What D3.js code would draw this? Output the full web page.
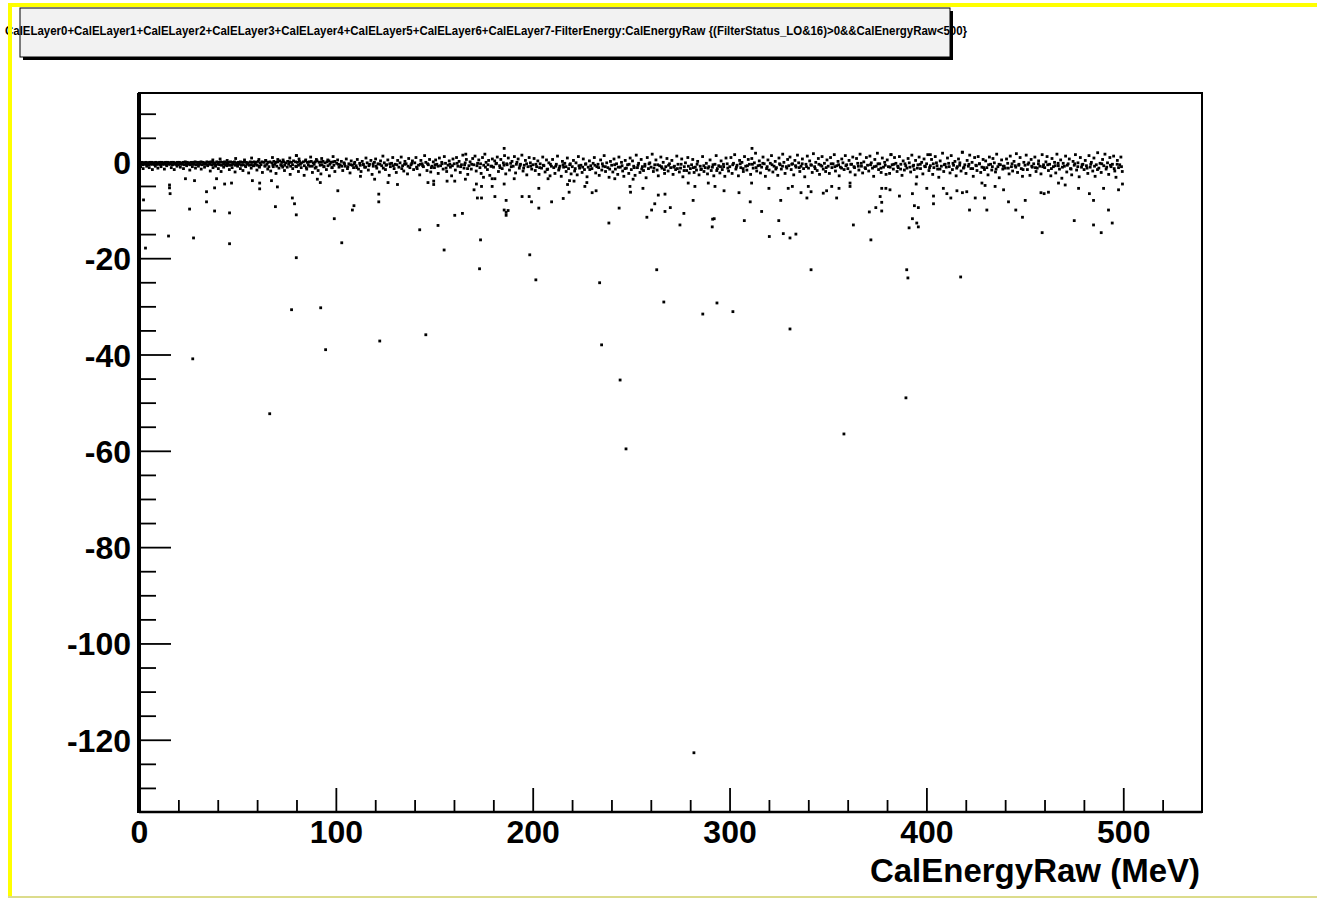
<!DOCTYPE html>
<html>
<head>
<meta charset="UTF-8">
<title>CalELayer sum - FilterEnergy vs CalEnergyRaw</title>
<script src="https://d3js.org/d3.v7.min.js"></script>
<style>
  body { margin: 0; background: #fff; }
  svg { display: block; font-family: "Liberation Sans", Arial, Helvetica, sans-serif; }
  .tick text { font-weight: bold; font-size: 32px; fill: #000; }
  .tick line { stroke: #000; stroke-width: 1.8; }
</style>
</head>
<body>
<svg width="1317" height="900"></svg>
<script>
const titleText = "CalELayer0+CalELayer1+CalELayer2+CalELayer3+CalELayer4+CalELayer5+CalELayer6+CalELayer7-FilterEnergy:CalEnergyRaw {(FilterStatus_LO&16)>0&&CalEnergyRaw<500}";
const xTitle = "CalEnergyRaw (MeV)";

const xDomain = [0, 540];
const yDomain = [-135, 14.3];
const xMajor = [0, 100, 200, 300, 400, 500];
const xMinor = [20, 40, 60, 80, 120, 140, 160, 180, 220, 240, 260, 280, 320, 340, 360, 380, 420, 440, 460, 480, 520];
const yMajor = [0, -20, -40, -60, -80, -100, -120];
const yMinor = [10, 5, -5, -10, -15, -25, -30, -35, -45, -50, -55, -65, -70, -75, -85, -90, -95, -105, -110, -115, -125, -130];

// points as "x,y" pairs (x in MeV, y in MeV)
// the solid line just under 0 at low energy
const coreRow1 = `0.5,-0.2 1.5,-0.1 2.5,-0.2 3.5,-0.1 4.5,-0.2 5.5,-0.1 6.5,-0.1 7.5,-0.2 8.5,-0.1 9.5,-0.2
10.5,-0.1 11.5,-0.1 12.5,-0.2 13.5,-0.1 14.5,-0.1 15.5,-0.2 16.5,-0.1 17.5,-0.1 18.5,-0.2 19.5,-0.1
20.5,-0.1 21.5,-0.2 22.5,-0.1 23.5,0.0 24.5,-0.1 25.5,-0.2 26.5,-0.1 27.5,-0.1 28.5,0.0 29.5,-0.1
30.5,-0.1 31.5,0.0 32.5,-0.1 33.5,-0.2 34.5,0.0 35.5,-0.1 36.5,0.0 37.5,-0.1 38.5,-0.2 39.5,0.0
40.5,-0.1 41.5,0.0 42.5,-0.1 43.5,0.0 44.5,-0.2 45.5,-0.1 46.5,0.0 47.5,-0.1 48.5,0.0 49.5,-0.2
50.5,-0.1 51.5,0.0 52.5,-0.1 53.5,0.0 54.5,-0.1 55.5,-0.2 56.5,0.0 57.5,-0.1 58.5,0.0 59.5,-0.1
60.5,0.1 61.5,-0.2 62.5,0.0 63.5,-0.1 64.5,0.2 65.5,-0.1 66.5,0.0 67.5,-0.2 68.5,0.1 69.5,-0.1
70.5,0.0 71.5,0.2 72.5,-0.1 73.5,0.0 74.5,-0.2 75.5,0.1 76.5,0.0 77.5,-0.1 78.5,0.2 79.5,0.0
80.5,-0.1 81.5,0.1 82.5,-0.2 83.5,0.0 84.5,0.2 85.5,-0.1 86.5,0.0 87.5,0.1 88.5,-0.2 89.5,0.0
90.5,0.2 91.5,-0.1 92.5,0.0 93.5,0.1 94.5,-0.2 95.5,0.0 96.5,0.2 97.5,-0.1 98.5,0.0 99.5,0.1`;
const coreRow2 = `1,-0.5 2,-0.6 3,-0.5 4,-0.5 5,-0.6 6,-0.5 7,-0.5 8,-0.6 9,-0.5 10,-0.5
11,-0.6 12,-0.5 13,-0.5 14,-0.6 15,-0.5 16,-0.5 17,-0.6 18,-0.5 19,-0.5 20,-0.6
21,-0.5 22,-0.5 23,-0.6 24,-0.5 25,-0.5 26,-0.6 27,-0.5 28,-0.5 29,-0.6 30,-0.5
31,-0.5 32,-0.6 33,-0.5 34,-0.5 35,-0.6 36,-0.5 37,-0.6 38,-0.5 39,-0.7 40,-0.5
41,-0.6 42,-0.7 43,-0.5 44,-0.6 45,-0.5 46,-0.7 47,-0.6 48,-0.5 49,-0.7 50,-0.6
51,-0.5 52,-0.7 53,-0.6 54,-0.8 55,-0.5 56,-0.7 57,-0.6 58,-0.8 59,-0.5 60,-0.7
61,-0.9 62,-0.6 64,-0.8 65,-0.5 66,-1.0 68,-0.7 69,-0.5 70,-0.9 72,-0.6 73,-1.1
74,-0.7 76,-0.5 77,-0.9 78,-0.6 80,-1.0 81,-0.7 82,-0.5 84,-0.8 85,-1.2 86,-0.6
88,-0.9 89,-0.5 90,-1.1 92,-0.7 93,-0.6 94,-1.0 96,-0.8 97,-0.5 98,-1.2 99,-0.7`;
// scatter around the line below 100 MeV
const lowBand = `0.8,-1.0 2.1,-1.4 3.9,-0.9 5.2,-1.2 6.8,-1.6 8.3,-0.9 9.6,-1.3 11.2,-1.0 12.9,-1.5 14.1,-0.8
16.4,-1.2 17.9,-1.6 19.3,-0.9 21.0,-1.1 22.6,-1.4 24.2,-0.8 25.8,-1.7 27.1,-1.0 28.7,-1.3 30.2,-0.9
31.6,-1.5 33.3,-1.1 34.9,-0.8 36.2,-1.9 37.6,-1.2 38.9,-0.9 40.3,-1.4 41.7,-2.0 43.0,-1.1 44.6,-0.8
45.9,-1.6 47.3,-1.2 48.8,-2.1 50.1,-0.9 51.5,-1.4 52.8,-1.8 54.2,-1.0 55.7,-2.3 57.0,-1.3 58.4,-0.8
59.9,-1.7 61.2,-1.1 62.7,-2.2 64.0,-0.9 65.4,-1.5 66.9,-1.9 68.2,-1.0 69.6,-2.4 71.1,-1.3 72.5,-0.8
73.9,-1.8 75.3,-1.1 76.8,-2.6 78.1,-1.4 79.6,-0.9 81.0,-2.0 82.4,-1.2 83.9,-2.8 85.2,-1.5 86.7,-0.9
88.1,-2.2 89.5,-1.3 91.0,-1.8 92.4,-2.5 93.9,-1.0 95.2,-1.6 96.7,-2.9 98.1,-1.2 99.5,-2.0
37.5,0.4 41.2,0.6 44.8,0.3 49.1,0.7 53.6,0.4 57.2,0.8 60.9,0.5 64.3,0.3 67.8,0.9 70.5,0.5
73.2,0.4 76.6,0.8 79.9,1.3 81.3,0.6 84.7,0.4 87.2,1.0 90.1,0.5 92.8,0.7 95.9,0.4 98.6,1.1`;
// band from 100 to 300 MeV
const midBand = `100.4,-0.3 100.9,0.4 101.6,-1.1 102.2,-0.6 102.8,0.1 103.5,-1.8 104.1,-0.2 104.7,-0.9 105.3,0.6 105.9,-1.4 106.6,-0.4 107.2,-2.3 107.8,0.2 108.4,-0.7 109.0,-1.2 109.6,-0.1
110.3,-0.8 110.9,0.5 111.5,-1.5 112.1,-0.3 112.8,-2.0 113.4,0.1 114.0,-0.6 114.6,-1.1 115.3,0.8 115.9,-0.2 116.5,-1.7 117.1,-0.5 117.8,0.3 118.4,-2.6 119.0,-0.9 119.6,-0.1
120.2,0.6 120.8,-1.3 121.4,-0.4 122.1,-2.1 122.7,0.2 123.3,-0.8 123.9,1.2 124.6,-0.2 125.2,-1.6 125.8,-0.6 126.4,0.4 127.1,-2.8 127.7,-1.0 128.3,-0.3 128.9,0.9 129.6,-1.4
130.1,-0.5 130.7,-2.2 131.4,0.3 132.0,-1.1 132.6,-0.2 133.2,1.0 133.9,-0.8 134.5,-1.9 135.1,0.1 135.7,-0.4 136.4,-2.5 137.0,0.7 137.6,-1.2 138.2,-0.6 138.9,0.2 139.5,-1.6
140.1,-0.2 140.7,0.9 141.3,-1.4 142.0,-0.7 142.6,-2.7 143.2,0.3 143.8,-0.4 144.5,-1.0 145.1,1.3 145.7,-0.1 146.3,-1.8 147.0,-0.6 147.6,0.5 148.2,-2.1 148.8,-0.9 149.5,0.0
150.1,-1.2 150.7,0.4 151.3,-0.5 152.0,-2.4 152.6,0.8 153.2,-0.8 153.8,-0.1 154.5,-1.5 155.1,1.1 155.7,-0.3 156.3,-2.0 157.0,-0.7 157.6,0.2 158.2,-1.1 158.8,-2.9 159.5,0.6
160.1,-0.4 160.7,-1.7 161.3,0.9 162.0,-0.9 162.6,0.1 163.2,-2.2 163.8,-0.6 164.5,1.4 165.1,-1.3 165.7,-0.2 166.3,0.5 167.0,-2.6 167.6,-0.8 168.2,0.0 168.8,-1.5 169.5,0.7
170.1,-0.6 170.7,1.2 171.3,-1.9 172.0,-0.3 172.6,0.4 173.2,-1.2 173.8,-2.4 174.5,0.9 175.1,-0.7 175.7,1.6 176.3,-0.1 177.0,-1.6 177.6,0.3 178.2,-2.8 178.8,-0.9 179.5,0.6
180.1,-1.1 180.7,0.2 181.3,-0.4 182.0,1.0 182.6,-2.0 183.2,-0.8 183.8,0.5 184.5,-1.4 185.1,-0.2 185.7,1.3 186.3,-2.5 187.0,-0.6 187.6,0.8 188.2,-1.7 188.8,-0.3 189.5,0.1
190.1,-0.9 190.7,1.1 191.3,-2.3 192.0,-0.1 192.6,0.6 193.2,-1.3 193.8,-0.5 194.5,1.4 195.1,-1.9 195.7,-0.7 196.3,0.3 197.0,-2.7 197.6,-1.0 198.2,0.9 198.8,-0.2 199.5,-1.5
200.1,-0.6 200.7,0.7 201.3,-1.8 202.0,-1.0 202.6,0.2 203.2,-2.6 203.8,-0.4 204.5,-1.3 205.1,1.0 205.7,-0.8 206.3,-2.1 207.0,0.4 207.6,-1.5 208.2,-0.2 208.8,-2.9 209.5,-0.9
210.1,0.5 210.7,-1.2 211.3,-2.4 212.0,-0.5 212.6,1.2 213.2,-1.7 213.8,-0.9 214.5,-3.0 215.1,0.1 215.7,-1.1 216.3,-0.3 217.0,-2.0 217.6,0.8 218.2,-1.4 218.8,-0.6 219.5,-2.5
220.1,-1.0 220.7,0.3 221.3,-1.9 222.0,-0.2 222.6,-2.7 223.2,1.1 223.8,-1.3 224.5,-0.7 225.1,-2.2 225.7,0.6 226.3,-1.6 227.0,-0.4 227.6,-3.1 228.2,-1.1 228.8,0.2 229.5,-0.8
230.1,-1.4 230.7,-0.3 231.3,0.9 232.0,-2.3 232.6,-1.0 233.2,-0.5 233.8,-2.8 234.5,0.4 235.1,-1.7 235.7,-0.9 236.3,1.3 237.0,-2.0 237.6,-0.2 238.2,-1.2 238.8,-3.2 239.5,0.1
240.1,-0.7 240.7,-2.1 241.3,0.6 242.0,-1.5 242.6,-0.4 243.2,-2.6 243.8,1.0 244.5,-1.1 245.1,-0.1 245.7,-1.9 246.3,-3.0 247.0,0.3 247.6,-1.3 248.2,-0.6 248.8,-2.4 249.5,0.8
250.1,-1.6 250.7,0.2 251.3,-0.9 252.0,-2.8 252.6,1.4 253.2,-1.2 253.8,-0.3 254.5,-2.2 255.1,0.5 255.7,-1.0 256.3,-1.8 257.0,-0.5 257.6,-3.3 258.2,0.9 258.8,-1.4 259.5,-0.2
260.1,-1.1 260.7,1.6 261.3,-2.0 262.0,-0.6 262.6,0.4 263.2,-1.7 263.8,-2.9 264.5,-0.8 265.1,1.0 265.7,-1.3 266.3,-0.1 267.0,-2.4 267.6,-1.0 268.2,0.7 268.8,-1.9 269.5,-0.4
270.1,-1.2 270.7,0.3 271.3,-2.6 272.0,-0.9 272.6,-1.6 273.2,1.2 273.8,-0.5 274.5,-2.1 275.1,-1.3 275.7,0.6 276.3,-3.1 277.0,-1.0 277.6,-0.2 278.2,-1.8 278.8,0.9 279.5,-2.3
280.1,-1.4 280.7,-0.6 281.3,0.5 282.0,-2.2 282.6,-1.1 283.2,-1.7 283.8,0.1 284.5,-2.7 285.1,-0.9 285.7,-1.5 286.3,1.1 287.0,-2.0 287.6,-1.2 288.2,-0.3 288.8,-2.5 289.5,-1.0
290.1,0.4 290.7,-1.8 291.3,-1.1 292.0,-2.9 292.6,-0.5 293.2,1.3 293.8,-1.4 294.5,-0.8 295.1,-2.3 295.7,0.2 296.3,-1.6 297.0,-1.0 297.6,-3.0 298.2,0.8 298.8,-0.4 299.5,-1.9`;
// band from 300 to 500 MeV
const highBand = `300.1,-1.0 300.7,0.9 301.3,-2.4 302.0,-0.3 302.6,1.5 303.2,-1.5 303.8,-0.7 304.5,-2.9 305.1,0.3 305.7,-1.2 306.3,-0.1 307.0,-2.0 307.6,1.1 308.2,-0.9 308.8,-1.7 309.5,0.5
310.1,-0.5 310.7,-2.6 311.3,0.7 312.0,-1.3 312.6,-0.2 313.2,1.8 313.8,-1.9 314.5,-0.8 315.1,0.2 315.7,-2.3 316.3,-1.1 317.0,1.0 317.6,-0.4 318.2,-3.0 318.8,-1.4 319.5,0.4
320.1,-1.7 320.7,-0.3 321.3,1.3 322.0,-2.1 322.6,-0.9 323.2,0.1 323.8,-1.2 324.5,-2.8 325.1,0.8 325.7,-0.6 326.3,-1.5 327.0,1.6 327.6,-0.1 328.2,-2.4 328.8,-1.0 329.5,0.5
330.1,-0.8 330.7,1.0 331.3,-1.6 332.0,-0.4 332.6,-2.7 333.2,0.3 333.8,-1.1 334.5,1.4 335.1,-0.2 335.7,-2.0 336.3,-0.9 337.0,0.6 337.6,-1.4 338.2,-3.1 338.8,-0.5 339.5,1.2
340.1,-1.3 340.7,0.2 341.3,-0.6 342.0,-2.2 342.6,1.7 343.2,-1.0 343.8,-0.1 344.5,-1.8 345.1,0.7 345.7,-2.6 346.3,-0.7 347.0,1.1 347.6,-1.5 348.2,-0.3 348.8,-2.0 349.5,0.4
350.1,-0.9 350.7,-2.4 351.3,0.9 352.0,-1.2 352.6,-0.4 353.2,1.5 353.8,-1.9 354.5,-0.8 355.1,0.1 355.7,-2.9 356.3,-1.1 357.0,0.6 357.6,-0.2 358.2,-1.6 358.8,1.3 359.5,-0.6
360.1,-1.4 360.7,0.3 361.3,-2.1 362.0,-0.5 362.6,1.0 363.2,-1.0 363.8,-2.7 364.5,0.7 365.1,-0.3 365.7,-1.7 366.3,1.6 367.0,-0.9 367.6,-2.3 368.2,0.0 368.8,-1.2 369.5,0.9
370.1,-0.7 370.7,-1.9 371.3,1.2 372.0,-0.2 372.6,-1.3 373.2,-3.0 373.8,0.5 374.5,-0.9 375.1,1.8 375.7,-1.6 376.3,-0.4 377.0,-2.2 377.6,0.8 378.2,-1.1 378.8,-0.1 379.5,-2.6
380.1,0.4 380.7,-1.0 381.3,-2.4 382.0,1.5 382.6,-0.6 383.2,-1.5 383.8,0.9 384.5,-0.3 385.1,-2.0 385.7,-1.2 386.3,1.1 387.0,-0.5 387.6,-2.8 388.2,0.2 388.8,-1.7 389.5,-0.8
390.1,-1.3 390.7,0.7 391.3,-0.2 392.0,-2.1 392.6,1.4 393.2,-0.9 393.8,-1.6 394.5,0.3 395.1,-3.1 395.7,-0.6 396.3,1.0 397.0,-1.4 397.6,-0.1 398.2,-2.5 398.8,0.6 399.5,-1.0
400.1,-0.4 400.7,1.5 401.3,-1.8 402.0,-0.8 402.6,0.5 403.2,-2.6 403.8,-1.2 404.5,1.1 405.1,-0.2 405.7,-1.5 406.3,-3.2 407.0,0.2 407.6,-0.9 408.2,1.8 408.8,-2.0 409.5,-0.5
410.1,-1.1 410.7,0.8 411.3,-0.3 412.0,-2.3 412.6,1.3 413.2,-1.6 413.8,-0.7 414.5,0.1 415.1,-2.9 415.7,-1.0 416.3,0.6 417.0,-0.2 417.6,-1.9 418.2,2.0 418.8,-1.3 419.5,-0.6
420.1,-2.4 420.7,0.3 421.3,-0.9 422.0,1.4 422.6,-1.4 423.2,-0.1 423.8,-3.0 424.5,0.9 425.1,-0.7 425.7,-1.8 426.3,1.1 427.0,-0.4 427.6,-2.2 428.2,-1.1 428.8,0.5 429.5,-1.6
430.1,0.2 430.7,-1.2 431.3,-2.7 432.0,1.0 432.6,-0.5 433.2,-1.7 433.8,0.7 434.5,-0.2 435.1,-2.1 435.7,1.6 436.3,-1.0 437.0,-3.3 437.6,-0.6 438.2,0.4 438.8,-1.5 439.5,-0.9
440.1,-1.3 440.7,0.6 441.3,-0.3 442.0,-2.5 442.6,1.2 443.2,-1.0 443.8,-1.9 444.5,0.1 445.1,-0.8 445.7,1.7 446.3,-2.2 447.0,-0.5 447.6,0.9 448.2,-1.4 448.8,-3.0 449.5,-0.1
450.1,-0.7 450.7,1.4 451.3,-1.6 452.0,-0.2 452.6,-2.8 453.2,0.5 453.8,-1.1 454.5,-0.4 455.1,1.0 455.7,-2.0 456.3,-1.3 457.0,0.2 457.6,-0.9 458.2,-2.5 458.8,1.5 459.5,-0.6
460.1,-1.2 460.7,0.0 461.3,1.1 462.0,-1.8 462.6,-0.5 463.2,-2.9 463.8,0.7 464.5,-1.0 465.1,-0.1 465.7,-2.3 466.3,1.6 467.0,-0.8 467.6,-1.5 468.2,0.4 468.8,-3.4 469.5,-0.3
470.1,-0.9 470.7,1.2 471.3,-2.1 472.0,-0.4 472.6,0.6 473.2,-1.4 473.8,-2.7 474.5,0.1 475.1,-0.7 475.7,1.5 476.3,-1.7 477.0,-0.2 477.6,-3.1 478.2,0.9 478.8,-1.1 479.5,-0.5
480.1,-1.6 480.7,0.3 481.3,-0.8 482.0,-2.4 482.6,1.3 483.2,-1.1 483.8,-0.1 484.5,-1.9 485.1,0.8 485.7,-3.0 486.3,-0.6 487.0,1.9 487.6,-1.3 488.2,-0.3 488.8,-2.2 489.5,0.5
490.1,-0.8 490.7,1.6 491.3,-1.5 492.0,-0.2 492.6,-2.6 493.2,0.9 493.8,-1.0 494.5,-0.5 495.1,1.2 495.7,-1.9 496.3,-3.2 497.0,0.3 497.6,-1.2 498.2,-0.6 498.8,1.0 499.5,-2.0`;
// extra points in the crowded middle of the band
const bandCore = `101.2,-0.5 103.0,-0.9 104.4,-0.4 106.1,-1.0 107.5,-0.6 109.3,-0.4 110.6,-1.2 112.4,-0.7 113.9,-0.5 115.1,-1.1
116.8,-0.8 118.9,-0.4 120.5,-0.9 122.4,-0.5 124.1,-1.3 125.5,-0.7 127.4,-0.4 129.2,-0.8 131.0,-0.6 133.5,-1.4
134.9,-0.5 136.7,-0.9 138.6,-0.3 141.0,-1.1 142.9,-0.5 144.1,-0.8 146.6,-0.4 148.5,-1.2 150.4,-0.6 151.9,-0.9
154.0,-0.4 156.0,-1.3 157.9,-0.5 159.2,-0.8 161.6,-0.3 163.4,-1.0 165.4,-0.6 166.9,-1.4 169.0,-0.5 171.7,-0.8
173.5,-0.4 176.0,-1.1 177.3,-0.6 179.2,-0.9 181.6,-0.3 183.4,-1.2 185.4,-0.7 186.8,-0.4 189.1,-1.0 191.7,-0.5
193.5,-0.8 195.4,-1.3 196.9,-0.4 199.0,-0.9 201.6,-0.5 203.5,-1.2 205.4,-0.7 207.3,-1.6 209.0,-0.5 211.7,-0.9
213.5,-1.3 215.4,-0.6 216.9,-1.0 219.1,-0.4 221.6,-1.4 223.5,-0.8 225.4,-1.1 226.8,-0.5 229.0,-1.6 231.6,-0.7
233.5,-1.2 235.4,-0.4 236.9,-1.0 239.1,-1.5 241.6,-0.6 243.5,-1.1 245.4,-0.8 246.9,-1.4 249.0,-0.5 251.6,-1.2
253.5,-0.7 255.4,-1.5 257.0,-0.9 259.1,-0.4 261.6,-1.3 263.5,-0.6 265.4,-1.0 266.9,-1.6 269.0,-0.7 271.6,-1.1
273.5,-1.4 275.4,-0.5 276.9,-1.8 279.1,-0.9 281.6,-1.2 283.5,-0.5 285.4,-1.6 286.9,-0.8 289.1,-1.3 291.6,-0.6
293.5,-1.8 295.4,-1.0 296.9,-0.5 299.1,-1.3 301.6,-0.6 303.5,-1.1 305.4,-0.4 306.9,-1.4 309.1,-0.8 311.6,-0.5
313.5,-1.2 315.4,-0.7 316.9,-0.3 319.1,-1.0 321.6,-0.6 323.5,-1.5 325.4,-0.4 326.9,-0.9 329.1,-1.3 331.6,-0.5
333.5,-0.8 335.4,-1.2 336.9,-0.4 339.1,-1.0 341.6,-0.7 343.5,-1.4 345.4,-0.5 346.9,-0.9 349.1,-1.2 351.6,-0.4
353.5,-1.0 355.4,-0.6 356.9,-1.3 359.1,-0.8 361.6,-0.5 363.5,-1.2 365.4,-0.9 366.9,-0.3 369.1,-1.4 371.6,-0.6
373.5,-1.0 375.4,-0.4 376.9,-1.3 379.1,-0.7 381.6,-1.1 383.5,-0.5 385.4,-0.9 386.9,-1.5 389.1,-0.4 391.6,-1.1
393.5,-0.7 395.4,-1.3 396.9,-0.5 399.1,-0.9 401.6,-1.2 403.5,-0.4 405.4,-0.8 406.9,-1.5 409.1,-0.6 411.6,-1.0
413.5,-0.3 415.4,-1.3 416.9,-0.7 419.1,-1.1 421.6,-0.5 423.5,-1.4 425.4,-0.8 426.9,-0.4 429.1,-1.2 431.6,-0.6
433.5,-1.0 435.4,-1.5 436.9,-0.5 439.1,-0.9 441.6,-1.3 443.5,-0.4 445.4,-1.1 446.9,-0.7 449.1,-1.6 451.6,-0.5
453.5,-0.9 455.4,-1.2 456.9,-0.4 459.1,-1.0 461.6,-0.6 463.5,-1.4 465.4,-0.8 466.9,-0.3 469.1,-1.1 471.6,-0.7
473.5,-1.5 475.4,-0.4 476.9,-1.0 479.1,-0.6 481.6,-1.3 483.5,-0.5 485.4,-0.9 486.9,-1.6 489.1,-0.4 491.6,-1.1
493.5,-0.7 495.4,-1.4 496.9,-0.5 499.1,-1.0`;
// points away from the band
const tailPoints = `2.3,-7.9 3.3,-17.9 15.5,-4.8 15.5,-5.4 15.8,-6.6 23.6,-3.5 28.2,-3.9 25.7,-9.8 15.0,-15.4 27.7,-15.8
34.3,-6.2 34.3,-8.3 38.4,-5.4 39.4,-3.5 38.4,-10.2 43.5,-4.6 47.0,-4.4 46.0,-10.6 46.0,-17.0 57.6,-3.9
61.3,-4.4 61.3,-5.6 67.3,-3.9 70.3,-5.2 69.3,-9.3 77.9,-7.5 79.0,-8.7 79.9,-11.0 79.9,-19.9
66.4,-52.3 27.3,-40.9 77.5,-30.7 92.3,-30.3 94.8,-39.0 122.3,-37.2 145.7,-35.9
103.0,-16.8 155.0,-18.3 173.0,-22.2 198.5,-19.3 201.6,-24.5 234.0,-25.1 235.0,-38.0 244.4,-45.3 247.4,-59.6
263.0,-22.4 266.6,-29.1 286.4,-31.6 293.6,-29.3 301.7,-31.1 330.7,-34.7 341.4,-22.4 281.9,-122.7
358.1,-56.5 389.6,-49.0 390.0,-22.4 390.6,-24.1 417.4,-23.9
90.6,-3.6 92.1,-4.3 101.0,-6.0 99.2,-11.8 108.4,-10.0 109.2,-9.1 119.7,-3.6 121.8,-6.7 121.8,-8.3 112.5,-3.0
126.5,-4.3 131.3,-4.7 146.8,-4.3 149.7,-4.0 149.7,-4.7 156.5,-4.0 160.4,-4.0 165.8,-3.6 170.2,-5.8 171.4,-4.6
174.0,-5.1 175.0,-3.2 171.9,-7.5 174.0,-7.5 160.4,-11.1 164.3,-10.7 179.4,-3.5 180.8,-3.5 179.4,-5.1 180.8,-7.2
185.5,-4.6 186.5,-8.0 185.5,-10.0 186.5,-10.5 187.5,-10.1 186.5,-11.1 190.6,-3.5 194.6,-7.2 198.2,-7.2 199.4,-8.3
203.1,-5.5 203.1,-9.6 207.8,-3.5 209.6,-8.3 215.5,-7.6 217.7,-4.7 218.7,-3.9 218.5,-6.3 221.0,-4.0 226.5,-5.1
227.5,-4.3 230.2,-6.4 232.2,-6.0 241.7,-3.5 243.9,-9.6 249.4,-5.1 249.7,-6.3 251.0,-3.6
256.0,-5.5 263.8,-6.9 267.2,-6.7 262.0,-8.7 260.4,-10.0 267.2,-10.3 269.9,-9.5 258.0,-11.5 276.8,-10.7 281.5,-8.0
292.2,-11.8 279.0,-4.4 282.4,-5.1 289.2,-4.4 292.6,-5.1 297.2,-6.0 304.8,-6.4 310.5,-8.3 311.2,-4.4 316.3,-10.3
320.0,-5.5 326.0,-8.0 329.8,-5.5 331.9,-5.1 336.3,-6.4 339.3,-7.5 341.4,-6.2 340.0,-5.1 347.6,-6.5 349.3,-6.0
354.4,-7.5 351.9,-5.1 355.6,-5.5 361.2,-4.4 361.2,-5.1 371.0,-10.4 374.3,-9.5 377.3,-10.2 376.5,-7.2 377.3,-8.4
377.3,-5.5 379.4,-5.5 381.5,-5.8 386.3,-7.1 392.9,-6.6 393.9,-9.1 395.9,-9.5 392.9,-11.8 394.8,-4.6 400.2,-5.5
403.6,-7.1 403.6,-8.7 408.6,-5.5 410.4,-6.6 412.4,-7.5 415.5,-6.0 418.3,-6.4 420.5,-6.2 421.9,-10.0 424.8,-7.5
429.5,-7.5 428.2,-4.4 429.8,-4.9 430.7,-10.0 434.9,-5.1 439.2,-5.8 441.7,-8.3 445.4,-10.0 448.8,-11.5 450.2,-8.0
458.2,-6.4 459.8,-6.6 462.0,-6.3 467.1,-4.4 470.5,-4.8 477.3,-5.5 482.8,-6.6 484.9,-8.0 490.0,-5.5 492.5,-10.0
497.6,-5.8 499.6,-4.6 475.1,-12.2 484.9,-13.1 488.8,-14.7 494.4,-12.7 458.8,-14.7 391.2,-13.7 395.9,-13.5
142.6,-14.1 151.9,-13.2 173.5,-16.2 320.2,-15.5 327.3,-14.9 330.7,-15.8 333.7,-15.0 325.0,-12.2 307.5,-12.2
291.4,-11.9 291.2,-13.5 274.8,-13.1 238.7,-12.7 362.9,-13.1 371.8,-16.2 395.1,-12.7
185.5,2.8 166.0,1.6 311.4,2.8 418.3,2.0 382.0,1.5 402.0,1.5 80.0,1.3`;

function parsePairs(s) {
  return s.trim().split(/\s+/).map(p => p.split(",").map(Number));
}

const points = [coreRow1, coreRow2, lowBand, midBand, highBand, bandCore, tailPoints]
  .flatMap(parsePairs);

const svg = d3.select("svg");
const frameLeft = 139, frameRight = 1202, frameTop = 93, frameBottom = 812;
const dot = 2.8;

const x = d3.scaleLinear().domain(xDomain).range([frameLeft, frameRight]);
const y = d3.scaleLinear().domain(yDomain).range([frameBottom, frameTop]);

// title box with shadow
svg.append("rect")
    .attr("x", 23).attr("y", 11).attr("width", 930).attr("height", 49)
    .attr("fill", "#000");
svg.append("rect")
    .attr("x", 20).attr("y", 8).attr("width", 930).attr("height", 49)
    .attr("fill", "#f2f2f2").attr("stroke", "#000").attr("stroke-width", 1);
svg.append("text")
    .attr("x", 486).attr("y", 35)
    .attr("text-anchor", "middle")
    .attr("font-size", 12).attr("font-weight", "bold")
    .attr("textLength", 962).attr("lengthAdjust", "spacingAndGlyphs")
    .text(titleText);

// markers
svg.append("g")
  .selectAll("rect")
  .data(points)
  .join("rect")
    .attr("x", d => x(d[0]) - dot / 2)
    .attr("y", d => y(d[1]) - dot / 2)
    .attr("width", dot)
    .attr("height", dot)
    .attr("fill", "#000");

// axes, ticks pointing into the frame
const noLabel = () => "";
svg.append("g")
    .attr("transform", `translate(0,${frameBottom})`)
    .call(d3.axisBottom(x).tickValues(xMinor).tickSize(-12).tickFormat(noLabel))
    .call(g => g.select(".domain").remove());
svg.append("g")
    .attr("transform", `translate(0,${frameBottom})`)
    .call(d3.axisBottom(x).tickValues(xMajor).tickSize(-24).tickPadding(8).tickFormat(d => String(d)))
    .call(g => g.select(".domain").remove());

svg.append("g")
    .attr("transform", `translate(${frameLeft},0)`)
    .call(d3.axisLeft(y).tickValues(yMinor).tickSize(-17).tickFormat(noLabel))
    .call(g => g.select(".domain").remove());
svg.append("g")
    .attr("transform", `translate(${frameLeft},0)`)
    .call(d3.axisLeft(y).tickValues(yMajor).tickSize(-32).tickPadding(8).tickFormat(d => String(d)))
    .call(g => g.select(".domain").remove())
    .call(g => g.selectAll(".tick text").attr("dy", "0.36em"));

// frame
svg.append("rect")
    .attr("x", frameLeft).attr("y", frameTop)
    .attr("width", frameRight - frameLeft).attr("height", frameBottom - frameTop)
    .attr("fill", "none").attr("stroke", "#000").attr("stroke-width", 2);
svg.append("line")
    .attr("x1", frameLeft).attr("x2", frameLeft).attr("y1", frameTop).attr("y2", frameBottom + 1)
    .attr("stroke", "#000").attr("stroke-width", 4);
svg.append("line")
    .attr("x1", frameLeft).attr("x2", frameRight).attr("y1", frameBottom).attr("y2", frameBottom)
    .attr("stroke", "#000").attr("stroke-width", 2.5);

svg.append("text")
    .attr("x", 1200).attr("y", 882)
    .attr("text-anchor", "end")
    .attr("font-size", 33).attr("font-weight", "bold")
    .text(xTitle);

// canvas border
svg.append("rect").attr("x", 8).attr("y", 3).attr("width", 4).attr("height", 895).attr("fill", "#ffff00");
svg.append("rect").attr("x", 8).attr("y", 3).attr("width", 1309).attr("height", 4).attr("fill", "#ffff00");
svg.append("rect").attr("x", 8).attr("y", 896).attr("width", 1309).attr("height", 2).attr("fill", "#dcdc8c");
</script>
</body>
</html>
